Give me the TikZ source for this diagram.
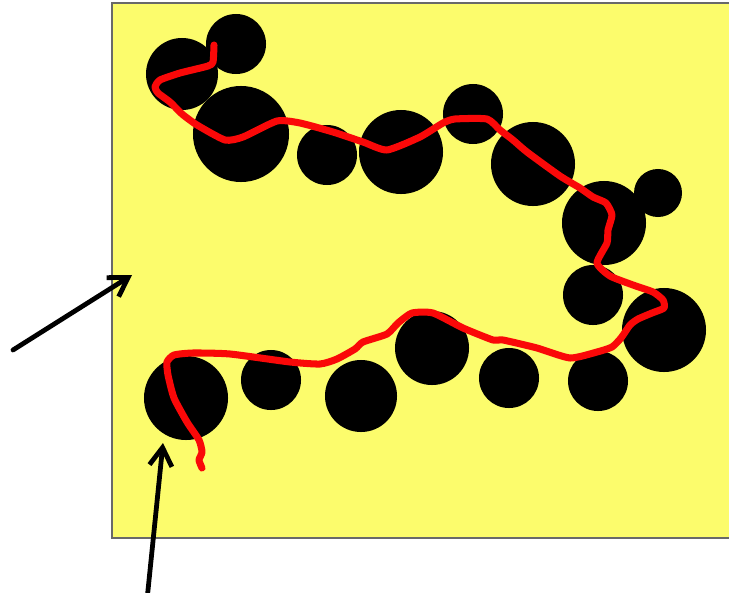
\documentclass[tikz,border=0pt]{standalone}
\usetikzlibrary{arrows.meta}
\definecolor{fieldyellow}{RGB}{252,252,108}
\definecolor{framegray}{RGB}{105,105,105}
\definecolor{routered}{RGB}{250,8,8}
\begin{document}
\begin{tikzpicture}[
  x=0.025cm, y=-0.025cm,
  blob/.style={circle,fill=black,inner sep=0pt,minimum size=#1*0.05cm},
  pointer/.style={-{Straight Barb[length=13pt,width=16pt]},line width=3.4pt,line cap=round},
  route/.style={routered,line width=5pt,line cap=round,line join=round},
]
  \useasboundingbox (0,0) rectangle (729,592);

  % Field
  \draw[fill=fieldyellow,draw=framegray,line width=0.9pt] (112,3) rectangle (735,538);

  % Obstacles, upper row
  \node[blob=36] (b1) at (182,74) {};
  \node[blob=30] (b2) at (236,44) {};
  \node[blob=48] (b3) at (241,134) {};
  \node[blob=30] (b4) at (327,155) {};
  \node[blob=42] (b5) at (401,152) {};
  \node[blob=30] (b6) at (473,114) {};
  \node[blob=42] (b7) at (533,164) {};
  \node[blob=42] (b8) at (604,223) {};
  \node[blob=24] (b9) at (658,193) {};
  % Obstacles, lower row
  \node[blob=30] (b10) at (593,295) {};
  \node[blob=42] (b11) at (664,330) {};
  \node[blob=30] (b12) at (598,381) {};
  \node[blob=30] (b13) at (509,378) {};
  \node[blob=37] (b14) at (432,348) {};
  \node[blob=36] (b15) at (361,396) {};
  \node[blob=30] (b16) at (271,380) {};
  \node[blob=42] (b17) at (186,398) {};

  % Route
  \draw[route] plot[smooth,tension=0.35] coordinates {
    (214,45) (213,62) (208,66) (180,73) (160,80) (155,87) (158,93) (170,102)
    (182,114) (197,125) (225,140) (243,137) (277,121) (300,123) (333,132)
    (363,142) (387,150) (420,137) (443,123) (455,119) (487,119) (500,130)
    (513,140) (527,152) (560,176) (580,188) (593,197) (606,203) (612,215)
    (608,230) (607,243) (597,263) (610,276) (633,285) (653,292) (663,300)
    (664,308) (652,313) (638,319) (630,325) (621,338) (612,347) (597,352)
    (570,358) (537,348) (503,340) (493,340) (463,328) (433,313) (412,313)
    (398,323) (387,334) (363,342) (355,349) (337,359) (320,364) (290,362)
    (230,354) (193,353) (174,355) (167,362) (168,375) (174,398) (187,422)
    (199,440) (202,452) (199,460) (202,468)};

  % Pointers
  \coordinate (edgetip) at (132,275);
  \coordinate (edgetail) at (13,350);
  \coordinate (rimtip) at (163,443);
  \coordinate (rimtail) at (147,600);
  \draw[pointer] (edgetail) -- (edgetip);
  \draw[pointer] (rimtail) -- (rimtip);
\end{tikzpicture}
\end{document}
